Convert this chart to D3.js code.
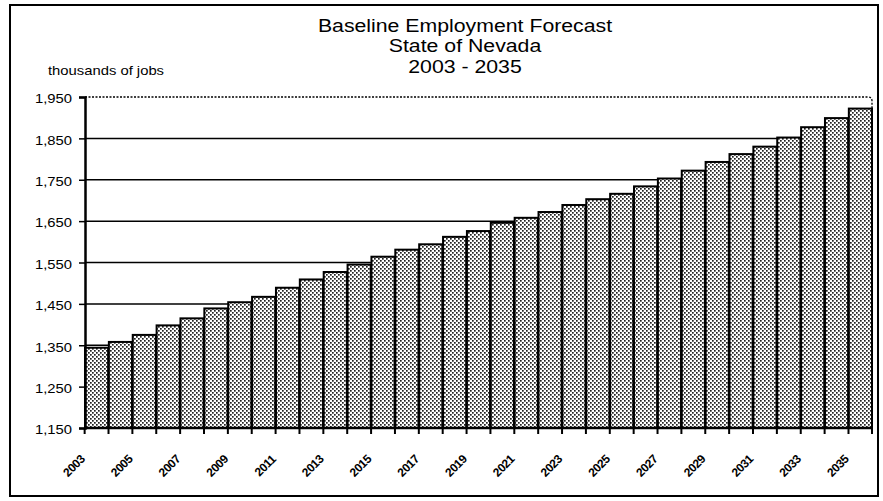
<!DOCTYPE html>
<html>
<head>
<meta charset="utf-8">
<script src="https://cdn.jsdelivr.net/npm/d3@7"></script>
<style>
  html, body { margin: 0; padding: 0; background: #fff; }
  svg { display: block; }
  text { font-family: "Liberation Sans", Arial, sans-serif; fill: #000; }
</style>
</head>
<body>
<svg id="chart" width="883" height="501"></svg>
<script>
// Baseline employment forecast, State of Nevada (thousands of jobs)
const years = [2003, 2004, 2005, 2006, 2007, 2008, 2009, 2010, 2011, 2012, 2013,
               2014, 2015, 2016, 2017, 2018, 2019, 2020, 2021, 2022, 2023, 2024,
               2025, 2026, 2027, 2028, 2029, 2030, 2031, 2032, 2033, 2034, 2035];
const jobs = [1344, 1358, 1375, 1398, 1415, 1439, 1454, 1467, 1489, 1509, 1527,
              1545, 1564, 1581, 1594, 1612, 1626, 1646, 1658, 1672, 1689, 1703,
              1716, 1734, 1753, 1772, 1793, 1812, 1830, 1852, 1877, 1899, 1922];
const yTicks = [1150, 1250, 1350, 1450, 1550, 1650, 1750, 1850, 1950];
const gridValues = [1350, 1450, 1550, 1650, 1750, 1850];
const xLabelYears = [2003, 2005, 2007, 2009, 2011, 2013, 2015, 2017, 2019,
                     2021, 2023, 2025, 2027, 2029, 2031, 2033, 2035];
const titleLines = ["Baseline Employment Forecast", "State of Nevada", "2003 - 2035"];
const unitLabel = "thousands of jobs";

const data = years.map((yr, i) => ({ year: yr, value: jobs[i] }));

const svg = d3.select("#chart");
const plot = { left: 85, right: 872, top: 97, bottom: 428 };
const sx = 1.14; // horizontal text stretch

// stippled fill for the bars
const defs = svg.append("defs");
const pat = defs.append("pattern")
  .attr("id", "stipple").attr("patternUnits", "userSpaceOnUse")
  .attr("width", 4).attr("height", 4);
pat.append("rect").attr("width", 4).attr("height", 4).attr("fill", "#fff");
pat.append("rect").attr("x", 0).attr("y", 0).attr("width", 1.7).attr("height", 1.7).attr("fill", "#222");
pat.append("rect").attr("x", 2).attr("y", 2).attr("width", 1.7).attr("height", 1.7).attr("fill", "#222");

// outer frame
svg.append("rect")
  .attr("x", 10).attr("y", 5).attr("width", 868).attr("height", 491)
  .attr("fill", "none").attr("stroke", "#000").attr("stroke-width", 2);

const x = d3.scaleBand().domain(years).range([plot.left, plot.right]).paddingInner(0.03);
const y = d3.scaleLinear().domain([1150, 1950]).range([plot.bottom, plot.top]);

// title
const title = svg.append("g");
[32, 51.5, 72.5].forEach((by, i) => {
  title.append("text")
    .attr("transform", `translate(465,${by}) scale(1.15,1)`)
    .attr("text-anchor", "middle")
    .attr("font-size", 18.5)
    .text(titleLines[i]);
});

svg.append("text")
  .attr("transform", `translate(48,75) scale(${sx},1)`)
  .attr("font-size", 13)
  .text(unitLabel);

// plot area border (dotted top and right edges)
svg.append("path")
  .attr("d", `M${plot.left},${y(1950)} H${plot.right - 4} Q${plot.right},${y(1950)} ${plot.right},${y(1950) + 4} V${plot.bottom}`)
  .attr("fill", "none").attr("stroke", "#000").attr("stroke-width", 1.3)
  .attr("stroke-dasharray", "2,1.5");

// gridlines
svg.append("g").selectAll("line").data(gridValues).join("line")
  .attr("x1", plot.left).attr("x2", plot.right)
  .attr("y1", d => y(d)).attr("y2", d => y(d))
  .attr("stroke", "#000").attr("stroke-width", 1.5);

// bars
svg.append("g").selectAll("rect").data(data).join("rect")
  .attr("x", d => x(d.year))
  .attr("y", d => y(d.value))
  .attr("width", x.bandwidth())
  .attr("height", d => y(1150) - y(d.value))
  .attr("fill", "url(#stipple)")
  .attr("stroke", "#000").attr("stroke-width", 2);

// y axis
const yAxis = svg.append("g")
  .attr("transform", `translate(${plot.left},0)`)
  .call(d3.axisLeft(y).tickValues(yTicks).tickSize(6).tickPadding(5.4)
    .tickFormat(d3.format(",")));
yAxis.select(".domain").attr("stroke", "#000").attr("stroke-width", 2.5);
yAxis.selectAll(".tick line").attr("stroke", "#000").attr("stroke-width", 1.5);
yAxis.selectAll(".tick text")
  .attr("font-family", "Liberation Sans, Arial, sans-serif")
  .attr("font-size", 13)
  .attr("dy", "0.45em")
  .attr("transform", `scale(${sx},1)`);

// x axis baseline and category boundary ticks
const bounds = years.map(yr => x(yr) - x.step() * x.paddingInner() / 2)
  .concat([plot.right]);
svg.append("line")
  .attr("x1", plot.left).attr("x2", plot.right)
  .attr("y1", y(1150)).attr("y2", y(1150))
  .attr("stroke", "#000").attr("stroke-width", 2.5);
svg.append("g").selectAll("line").data(bounds).join("line")
  .attr("x1", d => d).attr("x2", d => d)
  .attr("y1", y(1150)).attr("y2", y(1150) + 6)
  .attr("stroke", "#000").attr("stroke-width", 2);

// rotated year labels
svg.append("g").selectAll("text").data(xLabelYears).join("text")
  .attr("transform", d => `translate(${x(d) + x.bandwidth() / 2 - 11},${y(1150) + 32}) rotate(-45)`)
  .attr("text-anchor", "end")
  .attr("font-size", 12)
  .attr("font-weight", "bold")
  .attr("letter-spacing", -0.5)
  .text(d => d);
</script>
</body>
</html>
